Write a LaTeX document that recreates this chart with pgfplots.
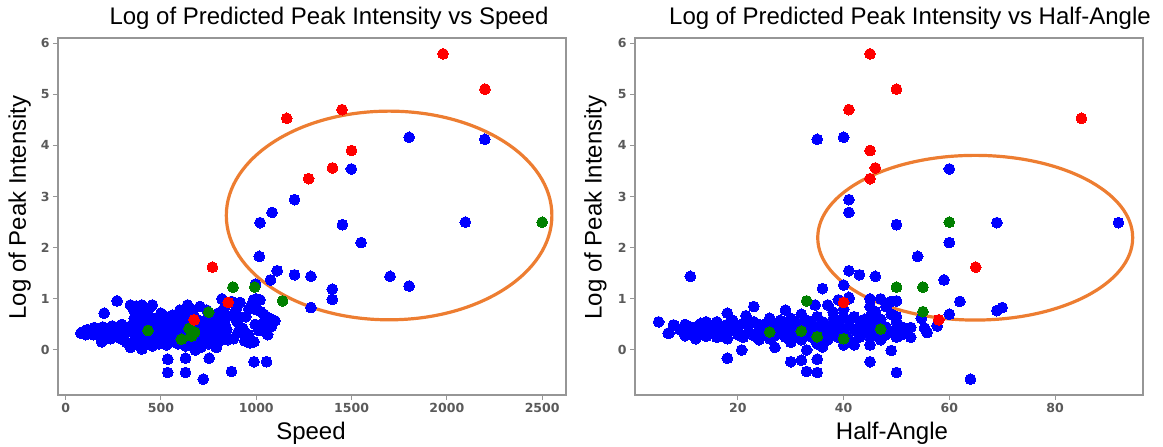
\documentclass[border=0pt]{standalone}
\usepackage{fontspec}
\setmainfont{Liberation Sans}
\newfontfamily\tickfont{DejaVu Sans}
\usepackage{pgfplots}
\pgfplotsset{compat=1.18}
\definecolor{ptblue}{RGB}{0,0,255}
\definecolor{ptred}{RGB}{255,0,0}
\definecolor{ptgreen}{RGB}{0,128,0}
\definecolor{ellorange}{RGB}{237,125,49}
\definecolor{axgray}{RGB}{150,150,150}
\definecolor{tickgray}{RGB}{90,90,90}
\pgfplotsset{
  myax/.style={
    scale only axis, width=508pt, height=357pt, anchor=south west,
    axis line style={axgray, line width=1.6pt},
    tick pos=left, tick align=outside, major tick length=5pt,
    every tick/.style={axgray, line width=1pt},
    ymin=-0.88, ymax=6.1, ytick={0,1,2,3,4,5,6},
    tick label style={font=\fontsize{12.5}{14}\selectfont\tickfont\bfseries, text=tickgray},
    /pgf/number format/assume math mode=true,
    /pgf/number format/1000 sep={},
  },
  dots/.style={only marks, mark=*, mark size=5.4pt, color=#1, mark options={solid, fill=#1, draw=#1, line width=0pt}},
}
\begin{document}
\begin{tikzpicture}
\useasboundingbox (0,0) rectangle (1163pt,447pt);
% ---------------- left: speed ----------------
\begin{axis}[myax, at={(58pt,52pt)}, xmin=-40, xmax=2625, xtick={0,500,1000,1500,2000,2500}]
\addplot[dots=ptblue] coordinates {
(80,0.33)(95,0.36)(105,0.30)(115,0.40)(125,0.34)(135,0.38)(145,0.30)(150,0.44)(160,0.36)(170,0.29)
(175,0.42)(185,0.33)(190,0.16)(195,0.45)(205,0.38)(210,0.27)(220,0.42)(230,0.33)(235,0.22)(245,0.47)
(250,0.36)(260,0.28)(265,0.40)(275,0.45)(280,0.32)(290,0.22)(295,0.50)(300,0.38)(305,0.27)(315,0.44)
(320,0.15)(202,0.72)(270,0.96)
(340,0.88)(355,0.80)(370,0.86)(385,0.75)(400,0.88)(420,0.70)(440,0.82)(455,0.88)(475,0.62)(500,0.72)
(520,0.66)(540,0.58)(560,0.68)(580,0.52)(600,0.78)(620,0.65)(640,0.88)(655,0.80)(670,0.70)(690,0.60)
(705,0.85)(720,0.55)(740,0.78)(760,0.48)(780,0.62)(800,0.72)(820,1.00)(835,0.85)(850,0.66)
(330,0.45)(345,0.35)(355,0.52)(365,0.28)(375,0.42)(385,0.60)(395,0.32)(405,0.50)(415,0.40)(425,0.55)
(435,0.30)(445,0.45)(455,0.62)(465,0.35)(475,0.48)(485,0.25)(495,0.55)(505,0.40)(515,0.32)(525,0.50)
(535,0.42)(545,0.28)(555,0.58)(565,0.45)(575,0.35)(585,0.62)(595,0.48)(605,0.38)(615,0.55)(625,0.30)
(635,0.45)(645,0.58)(655,0.38)(665,0.50)(675,0.28)(685,0.46)(695,0.38)(705,0.55)(715,0.30)(725,0.48)
(735,0.40)(745,0.62)(755,0.32)(765,0.52)(775,0.42)(785,0.30)(795,0.58)(805,0.45)(815,0.35)(825,0.70)
(835,0.50)(845,0.40)
(340,0.05)(360,0.12)(380,0.20)(400,0.02)(420,0.15)(440,0.22)(455,0.08)(470,0.18)(490,0.12)(510,0.20)
(530,0.10)(550,0.16)(570,0.22)(590,0.12)(610,0.18)(630,0.08)(650,0.15)(670,0.10)(690,0.20)(710,0.05)
(730,0.18)(750,0.12)(770,0.22)(790,0.05)(810,0.18)(830,0.28)
(870,0.95)(885,0.72)(900,0.55)(915,0.93)(930,0.42)(945,0.65)(960,0.30)(975,0.88)(986,0.98)(995,0.50)
(1005,0.78)(1015,0.38)(1023,0.75)(1035,0.52)(1045,0.42)(1060,0.30)(1070,0.62)(1098,0.57)(1080,0.46)
(880,0.22)(905,0.35)(940,0.18)(966,0.14)(988,0.16)(1000,1.00)(1020,0.98)(895,0.80)(960,0.80)(1040,0.70)
(996,1.29)(360,0.62)(430,0.68)(500,0.28)(620,0.25)(700,0.42)(760,0.30)(850,0.20)(910,0.62)
(536,-0.18)(629,-0.16)(753,-0.16)(536,-0.44)(629,-0.44)(722,-0.57)(870,-0.42)(988,-0.23)(1054,-0.23)
(680,0.0)(791,0.05)
(1802,4.16)(2199,4.12)(1499,3.54)(1201,2.94)(1083,2.69)(1020,2.49)(1452,2.45)(2097,2.50)(1550,2.10)
(1016,1.83)(1110,1.55)(1201,1.47)(1287,1.44)(1702,1.44)(1802,1.25)(1075,1.37)(1399,1.19)(1399,0.99)
(1287,0.83)
};
\addplot[dots=ptgreen] coordinates {
(2500,2.50)(878,1.23)(992,1.23)(1138,0.96)(751,0.74)(432,0.38)(607,0.21)(648,0.42)(676,0.35)(660,0.27)
};
\addplot[dots=ptred] coordinates {
(1980,5.79)(2200,5.10)(1450,4.70)(1160,4.53)(1500,3.90)(1400,3.56)(1275,3.35)(770,1.62)(853,0.93)(674,0.59)
};
\draw[ellorange, line width=3.2pt] (axis cs:1697,2.63) ellipse [x radius=854, y radius=2.04];
\end{axis}
% ---------------- right: half-angle ----------------
\begin{axis}[myax, at={(635pt,52pt)}, xmin=0.52, xmax=96.65, xtick={20,40,60,80}]
\addplot[dots=ptblue] coordinates {
(5,0.55)(7,0.33)(8,0.48)(9,0.40)(10,0.28)(10,0.50)(11,0.36)(12,0.22)(12,0.45)(13,0.32)
(13,0.52)(14,0.40)(14,0.27)(15,0.48)(15,0.35)(16,0.55)(16,0.25)(17,0.42)(17,0.32)(18,0.50)
(18,0.72)(18,0.22)(19,0.38)(19,0.58)(20,0.30)(20,0.45)(21,0.25)(21,0.52)(21.5,0.67)(22,0.36)
(22,0.48)(23,0.85)(23,0.28)(23,0.55)(24,0.40)(24,0.20)(25,0.50)(25,0.32)(26,0.62)(26,0.22)
(27,0.45)(27,0.05)(28,0.35)(28,0.58)(29,0.78)(29,0.25)(29,0.48)(30,0.40)(30,0.15)(30,0.62)
(31,0.30)(31,0.52)(32,0.20)(32,0.45)(32,0.70)(33,0.35)(33,0.58)(34,0.25)(34,0.48)(34.6,0.88)
(35,0.12)(35,0.40)(35,0.65)(36,0.30)(36,0.55)(36,0.06)(37,0.88)(37,0.20)(37,0.45)(38,0.74)
(38,0.35)(38,0.60)(39,0.25)(39,0.50)(39,0.98)(40,0.10)(40,0.40)(40,0.65)(40,0.80)(40,0.30)
(40,1.27)(41,1.03)(41,0.55)(41,0.20)(42,0.65)(42,0.38)(42,0.10)(43,0.48)(43,0.25)(44,0.35)
(44,0.60)(45,0.85)(45,0.65)(45,0.45)(45,0.25)(45,0.10)(45,1.00)(46,0.35)(46,0.55)(46,0.75)
(47,0.20)(47,0.60)(47,1.00)(48,0.45)(48,0.30)(48,0.85)(49,0.70)(49,0.35)(49,-0.01)(49,0.95)
(50,0.65)(50,0.38)(50,0.55)(50,0.25)(51,0.30)(51,0.45)(52,0.40)(52.7,0.44)(52.7,0.25)(54.7,0.62)
(55.3,0.43)(55.8,0.34)(57.7,0.47)(36,1.20)(41,1.00)(33,0.00)(6.8,0.33)(7.8,0.49)(20.7,0.00)
(11,0.45)(14,0.55)(17,0.28)(20,0.38)(24,0.50)(27,0.28)(29,0.38)(31,0.42)(34,0.38)(37,0.32)
(18,-0.16)(30,-0.23)(32,-0.20)(35,-0.18)(33,-0.42)(35,-0.44)(45,-0.23)(50,-0.44)(64,-0.57)
(40,4.16)(35,4.12)(60,3.54)(41,2.94)(41,2.69)(50,2.45)(69,2.49)(92,2.49)(60,2.10)(54,1.83)
(41,1.55)(43,1.47)(46,1.44)(11,1.44)(59,1.37)(62,0.95)(69,0.77)(70,0.83)(60,0.70)(50,0.96)
};
\addplot[dots=ptgreen] coordinates {
(60,2.50)(50,1.23)(55,1.23)(33,0.96)(55,0.75)(26,0.35)(32,0.37)(35,0.26)(40,0.22)(47,0.41)
};
\addplot[dots=ptred] coordinates {
(45,5.79)(50,5.10)(41,4.70)(85,4.53)(45,3.90)(46,3.56)(45,3.35)(65,1.62)(40,0.93)(58,0.59)
};
\draw[ellorange, line width=3.2pt] (axis cs:64.9,2.195) ellipse [x radius=29.8, y radius=1.61];
\end{axis}
% ---------------- texts ----------------
\node[anchor=base, inner sep=0pt, font=\fontsize{24}{28}\selectfont] at (329pt,422pt) {Log of Predicted Peak Intensity vs Speed};
\node[anchor=base, inner sep=0pt, font=\fontsize{24}{28}\selectfont] at (910pt,422pt) {Log of Predicted Peak Intensity vs Half-Angle};
\node[rotate=90, anchor=center, inner sep=0pt, font=\fontsize{24}{28}\selectfont] at (19.6pt,239.5pt) {Log of Peak Intensity};
\node[rotate=90, anchor=center, inner sep=0pt, font=\fontsize{24}{28}\selectfont] at (595.5pt,239.5pt) {Log of Peak Intensity};
\node[anchor=base, inner sep=0pt, font=\fontsize{24}{28}\selectfont] at (311pt,7pt) {Speed};
\node[anchor=base, inner sep=0pt, font=\fontsize{24}{28}\selectfont] at (892pt,7pt) {Half-Angle};
\end{tikzpicture}
\end{document}
